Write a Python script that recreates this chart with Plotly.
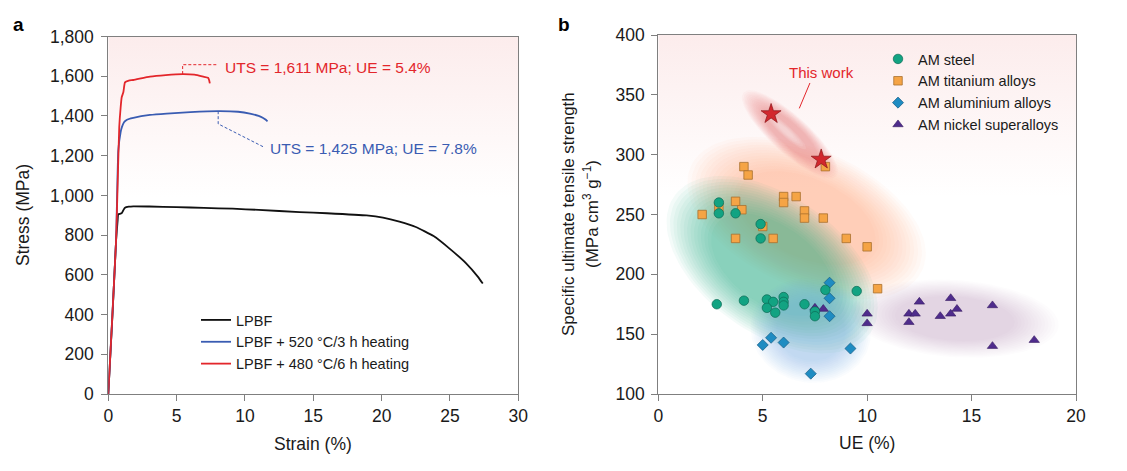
import numpy as np
import plotly.graph_objects as go

# ---------------- Panel a data (stress-strain curves) ----------------
lpbf_strain = [0, 0.3, 0.57, 0.68, 0.73, 0.9, 1.0, 1.1, 1.22, 1.5, 1.83, 3, 5, 7, 9.1, 11, 14, 16,
               18.9, 20.1, 21.3, 22.5, 23.8, 24.97, 26.2, 27.05, 27.4]
lpbf_stress = [0, 390, 774, 870, 905, 908, 912, 925, 938, 943, 945, 944, 941, 937, 933, 927, 916, 910,
               899, 888, 868, 841, 795, 732, 657, 590, 556]

h520_strain = [0, 0.3, 0.57, 0.73, 0.9, 1.0, 1.15, 1.34, 1.83, 3.05, 4.27, 6, 8.04, 9.5, 10.36, 11.0,
               11.33, 11.5, 11.65]
h520_stress = [0, 400, 774, 1226, 1318, 1345, 1368, 1380, 1390, 1405, 1412, 1419, 1424, 1421, 1412,
               1400, 1390, 1382, 1373]

h480_strain = [0, 0.3, 0.57, 0.7, 0.8, 0.9, 0.98, 1.1, 1.22, 1.5, 1.83, 3.05, 4.2, 5.44, 6.3, 6.95,
               7.3, 7.38, 7.43]
h480_stress = [0, 400, 774, 1100, 1343, 1440, 1494, 1519, 1569, 1578, 1581, 1598, 1606, 1611, 1608,
               1598, 1592, 1580, 1564]

curve_names = ["LPBF", "LPBF + 520 °C/3 h heating", "LPBF + 480 °C/6 h heating"]

# ---------------- Panel b data (specific UTS vs UE) ----------------
steel_ue = [2.9, 2.9, 3.7, 4.9, 4.9, 2.8, 4.1, 5.2, 5.5, 5.2, 5.6, 6.0, 6.0, 6.0, 7.0, 7.5, 7.5, 8.0, 9.5]
steel_sts = [260, 251, 251, 242, 230, 175, 178, 179, 177, 172, 168, 181, 177, 174, 175, 169, 165, 187, 186]

ti_ue = [4.1, 4.3, 8.0, 3.7, 2.9, 4.0, 2.1, 6.0, 6.0, 6.6, 7.0, 7.0, 7.9, 5.0, 3.7, 5.5, 9.0, 10.0, 10.5]
ti_sts = [290, 283, 290, 261, 256, 254, 250, 265, 260, 265, 253, 247, 247, 240, 230, 230, 230, 223, 188]

al_ue = [8.2, 8.2, 8.2, 5.4, 5.0, 6.0, 9.2, 7.3]
al_sts = [193, 180, 165, 147, 141, 143, 138, 117]

ni_ue = [7.5, 7.9, 10.0, 10.0, 12.5, 12.0, 12.3, 12.0, 14.0, 14.3, 14.0, 13.5, 16.0, 16.0, 18.0]
ni_sts = [172, 171, 167, 159, 177, 167, 167, 160, 180, 171, 167, 165, 174, 140, 145]

tw_ue = [5.4, 7.8]
tw_sts = [334, 296]

group_names = ["AM steel", "AM titanium alloys", "AM aluminium alloys", "AM nickel superalloys"]

# ---------------- layout geometry ----------------
W, H = 1127, 471
FONT = "Liberation Sans, Arial, Helvetica, sans-serif"
TXT = "#1a1a1a"
AX = "#7f7f7f"

a_x0, a_x1, a_y0, a_y1 = 108.3, 518.3, 36.5, 394.0
b_x0, b_x1, b_y0, b_y1 = 658.3, 1076.0, 35.0, 394.0

def px2paper_x(p):
    return p / W

def px2paper_y(p):
    return 1 - p / H

xs_b = (b_x1 - b_x0) / 20.0
ys_b = (b_y1 - b_y0) / 300.0

fig = go.Figure()

bg_scale = [[0, "#ffffff"], [0.55, "#ffffff"], [1, "#fcecec"]]
fig.add_trace(go.Scatter(x=[0, 30, 30, 0, 0], y=[0, 0, 1800, 1800, 0], mode="lines",
                         line=dict(width=0), fill="toself",
                         fillgradient=dict(type="vertical", colorscale=bg_scale),
                         hoverinfo="skip", showlegend=False, xaxis="x", yaxis="y"))
fig.add_trace(go.Scatter(x=[0, 20, 20, 0, 0], y=[100, 100, 400, 400, 100], mode="lines",
                         line=dict(width=0), fill="toself",
                         fillgradient=dict(type="vertical", colorscale=bg_scale),
                         hoverinfo="skip", showlegend=False, xaxis="x2", yaxis="y2"))

# soft ellipses (center in data units, semi-axes in pixels, angle clockwise in degrees)
def ellipse_xy(cx, cy, a, b, ang, s):
    t = np.linspace(0, 2 * np.pi, 100)
    ex = s * a * np.cos(t)
    ey = s * b * np.sin(t)
    th = np.radians(ang)
    X = ex * np.cos(th) - ey * np.sin(th)
    Y = ex * np.sin(th) + ey * np.cos(th)
    return cx + X / xs_b, cy - Y / ys_b

regions = [
    (7.1, 247, 122, 66, 24, (245, 160, 90), 0.42),
    (5.45, 208, 115, 66, 35, (25, 170, 125), 0.50),
    (7.3, 153, 58, 50, 10, (100, 180, 230), 0.38),
    (14.2, 163, 100, 37, 4, (170, 110, 180), 0.30),
    (6.3, 317, 60, 18, 42, (225, 100, 110), 0.42),
]
K = 14
for cx, cy, a, b, ang, (r, g, bl), A in regions:
    alpha = 1 - (1 - A) ** (1.0 / K)
    for s in np.linspace(1.04, 0.6, K):
        ex, ey = ellipse_xy(cx, cy, a, b, ang, s)
        fig.add_trace(go.Scatter(x=ex, y=ey, mode="lines", line=dict(width=0), fill="toself",
                                 fillcolor=f"rgba({r},{g},{bl},{alpha:.4f})", hoverinfo="skip",
                                 showlegend=False, xaxis="x2", yaxis="y2"))
# highlight in the pink ellipse
for s in np.linspace(0.6, 0.25, 5):
    ex, ey = ellipse_xy(6.1, 320, 45, 9, 42, s)
    fig.add_trace(go.Scatter(x=ex, y=ey, mode="lines", line=dict(width=0), fill="toself",
                             fillcolor="rgba(255,255,255,0.10)", hoverinfo="skip",
                             showlegend=False, xaxis="x2", yaxis="y2"))

# panel a curves
for xs_, ys_, name, col in [(lpbf_strain, lpbf_stress, curve_names[0], "#111111"),
                            (h520_strain, h520_stress, curve_names[1], "#3a5cb2"),
                            (h480_strain, h480_stress, curve_names[2], "#e3262b")]:
    fig.add_trace(go.Scatter(x=xs_, y=ys_, mode="lines", name=name,
                             line=dict(color=col, width=1.8, shape="spline", smoothing=0.4),
                             xaxis="x", yaxis="y", legend="legend"))

# panel b markers (draw order: squares, triangles, diamonds, circles)
fig.add_trace(go.Scatter(x=ti_ue, y=ti_sts, mode="markers", name=group_names[1], legendrank=2,
                         marker=dict(symbol="square", size=8.5, color="#f5a445",
                                     line=dict(color="#a8702e", width=0.8)),
                         xaxis="x2", yaxis="y2", legend="legend2"))
fig.add_trace(go.Scatter(x=ni_ue, y=ni_sts, mode="markers", name=group_names[3], legendrank=4,
                         marker=dict(symbol="triangle-up", size=9, color="#4f2c8c",
                                     line=dict(color="#35195f", width=0.6)),
                         xaxis="x2", yaxis="y2", legend="legend2"))
fig.add_trace(go.Scatter(x=al_ue, y=al_sts, mode="markers", name=group_names[2], legendrank=3,
                         marker=dict(symbol="diamond", size=8.5, color="#1f8cc2",
                                     line=dict(color="#145a82", width=0.7)),
                         xaxis="x2", yaxis="y2", legend="legend2"))
fig.add_trace(go.Scatter(x=steel_ue, y=steel_sts, mode="markers", name=group_names[0], legendrank=1,
                         marker=dict(symbol="circle", size=9.5, color="#12a382",
                                     line=dict(color="#0b6a55", width=0.7)),
                         xaxis="x2", yaxis="y2", legend="legend2"))
fig.add_trace(go.Scatter(x=tw_ue, y=tw_sts, mode="markers", name="This work", showlegend=False,
                         marker=dict(symbol="star", size=15, color="#d2272d",
                                     line=dict(color="#8a1519", width=0.7)),
                         xaxis="x2", yaxis="y2"))

axis_common = dict(showline=True, mirror=True, linecolor=AX, linewidth=1, ticks="outside",
                   tickcolor=AX, ticklen=6, tickwidth=1, showgrid=False, zeroline=False,
                   automargin=False,
                   tickfont=dict(family=FONT, size=17.5, color=TXT), fixedrange=True)

fig.update_layout(
    template="none",
    width=W, height=H, autosize=False,
    margin=dict(l=0, r=0, t=0, b=0, pad=0),
    paper_bgcolor="white", plot_bgcolor="white",
    font=dict(family=FONT, color=TXT),
    xaxis=dict(domain=[px2paper_x(a_x0), px2paper_x(a_x1)], range=[0, 30], dtick=5,
               anchor="y", **axis_common),
    yaxis=dict(domain=[px2paper_y(a_y1), px2paper_y(a_y0)], range=[0, 1800], dtick=200,
               tickformat=",d", anchor="x", ticklabelstandoff=4, **axis_common),
    xaxis2=dict(domain=[px2paper_x(b_x0), px2paper_x(b_x1)], range=[0, 20], dtick=5,
                anchor="y2", **axis_common),
    yaxis2=dict(domain=[px2paper_y(b_y1), px2paper_y(b_y0)], range=[100, 400], dtick=50,
                anchor="x2", ticklabelstandoff=3, **axis_common),
    legend=dict(x=px2paper_x(196), y=px2paper_y(304), xanchor="left", yanchor="top",
                bgcolor="rgba(0,0,0,0)", borderwidth=0,
                font=dict(family=FONT, size=14.5, color=TXT),
                traceorder="normal", itemwidth=30),
    legend2=dict(x=px2paper_x(878), y=px2paper_y(43), xanchor="left", yanchor="top",
                 bgcolor="rgba(0,0,0,0)", borderwidth=0,
                 font=dict(family=FONT, size=14.5, color=TXT),
                 traceorder="normal", itemwidth=30),
    showlegend=True,
)

red = "#e3262b"
blue = "#3a5cb2"
shapes = [
    dict(type="path", xref="x", yref="y", path="M 5.44,1611 L 5.44,1658 L 8.04,1658",
         line=dict(color=red, width=1, dash="3px,2px")),
    dict(type="path", xref="x", yref="y", path="M 8.04,1424 L 8.04,1360 L 11.33,1245",
         line=dict(color=blue, width=1, dash="3px,2px")),
    dict(type="line", xref="x2", yref="y2", x0=7.26, y0=359.9, x1=6.75, y1=338.7,
         line=dict(color=red, width=1)),
]
fig.update_layout(shapes=shapes)

ann = [
    dict(text="UTS = 1,611 MPa; UE = 5.4%", x=8.4, y=1642, xref="x", yref="y", xanchor="left",
         yanchor="middle", showarrow=False, font=dict(family=FONT, size=15.5, color=red)),
    dict(text="UTS = 1,425 MPa; UE = 7.8%", x=11.7, y=1235, xref="x", yref="y", xanchor="left",
         yanchor="middle", showarrow=False, font=dict(family=FONT, size=15.5, color=blue)),
    dict(text="This work", x=7.82, y=368.5, xref="x2", yref="y2", xanchor="center",
         yanchor="middle", showarrow=False, font=dict(family=FONT, size=15, color=red)),
    dict(text="<b>a</b>", x=px2paper_x(18), y=px2paper_y(25), xref="paper", yref="paper",
         xanchor="center", yanchor="middle", showarrow=False, font=dict(family=FONT, size=19, color="#000")),
    dict(text="<b>b</b>", x=px2paper_x(564), y=px2paper_y(25), xref="paper", yref="paper",
         xanchor="center", yanchor="middle", showarrow=False, font=dict(family=FONT, size=19, color="#000")),
    dict(text="Stress (MPa)", x=px2paper_x(23), y=px2paper_y(215), xref="paper", yref="paper",
         textangle=-90, xanchor="center", yanchor="middle", showarrow=False,
         font=dict(family=FONT, size=17.5, color=TXT)),
    dict(text="Strain (%)", x=px2paper_x(313), y=px2paper_y(444), xref="paper", yref="paper",
         xanchor="center", yanchor="middle", showarrow=False, font=dict(family=FONT, size=17.5, color=TXT)),
    dict(text="UE (%)", x=px2paper_x(867), y=px2paper_y(443), xref="paper", yref="paper",
         xanchor="center", yanchor="middle", showarrow=False, font=dict(family=FONT, size=17.5, color=TXT)),
    dict(text="Specific ultimate tensile strength", x=px2paper_x(568), y=px2paper_y(214),
         xref="paper", yref="paper", textangle=-90, xanchor="center", yanchor="middle",
         showarrow=False, font=dict(family=FONT, size=17, color=TXT)),
    dict(text="(MPa cm<sup>3</sup> g<sup>−1</sup>)", x=px2paper_x(591), y=px2paper_y(214),
         xref="paper", yref="paper", textangle=-90, xanchor="center", yanchor="middle",
         showarrow=False, font=dict(family=FONT, size=17, color=TXT)),
]
fig.update_layout(annotations=ann)

fig.write_html("out.html")
